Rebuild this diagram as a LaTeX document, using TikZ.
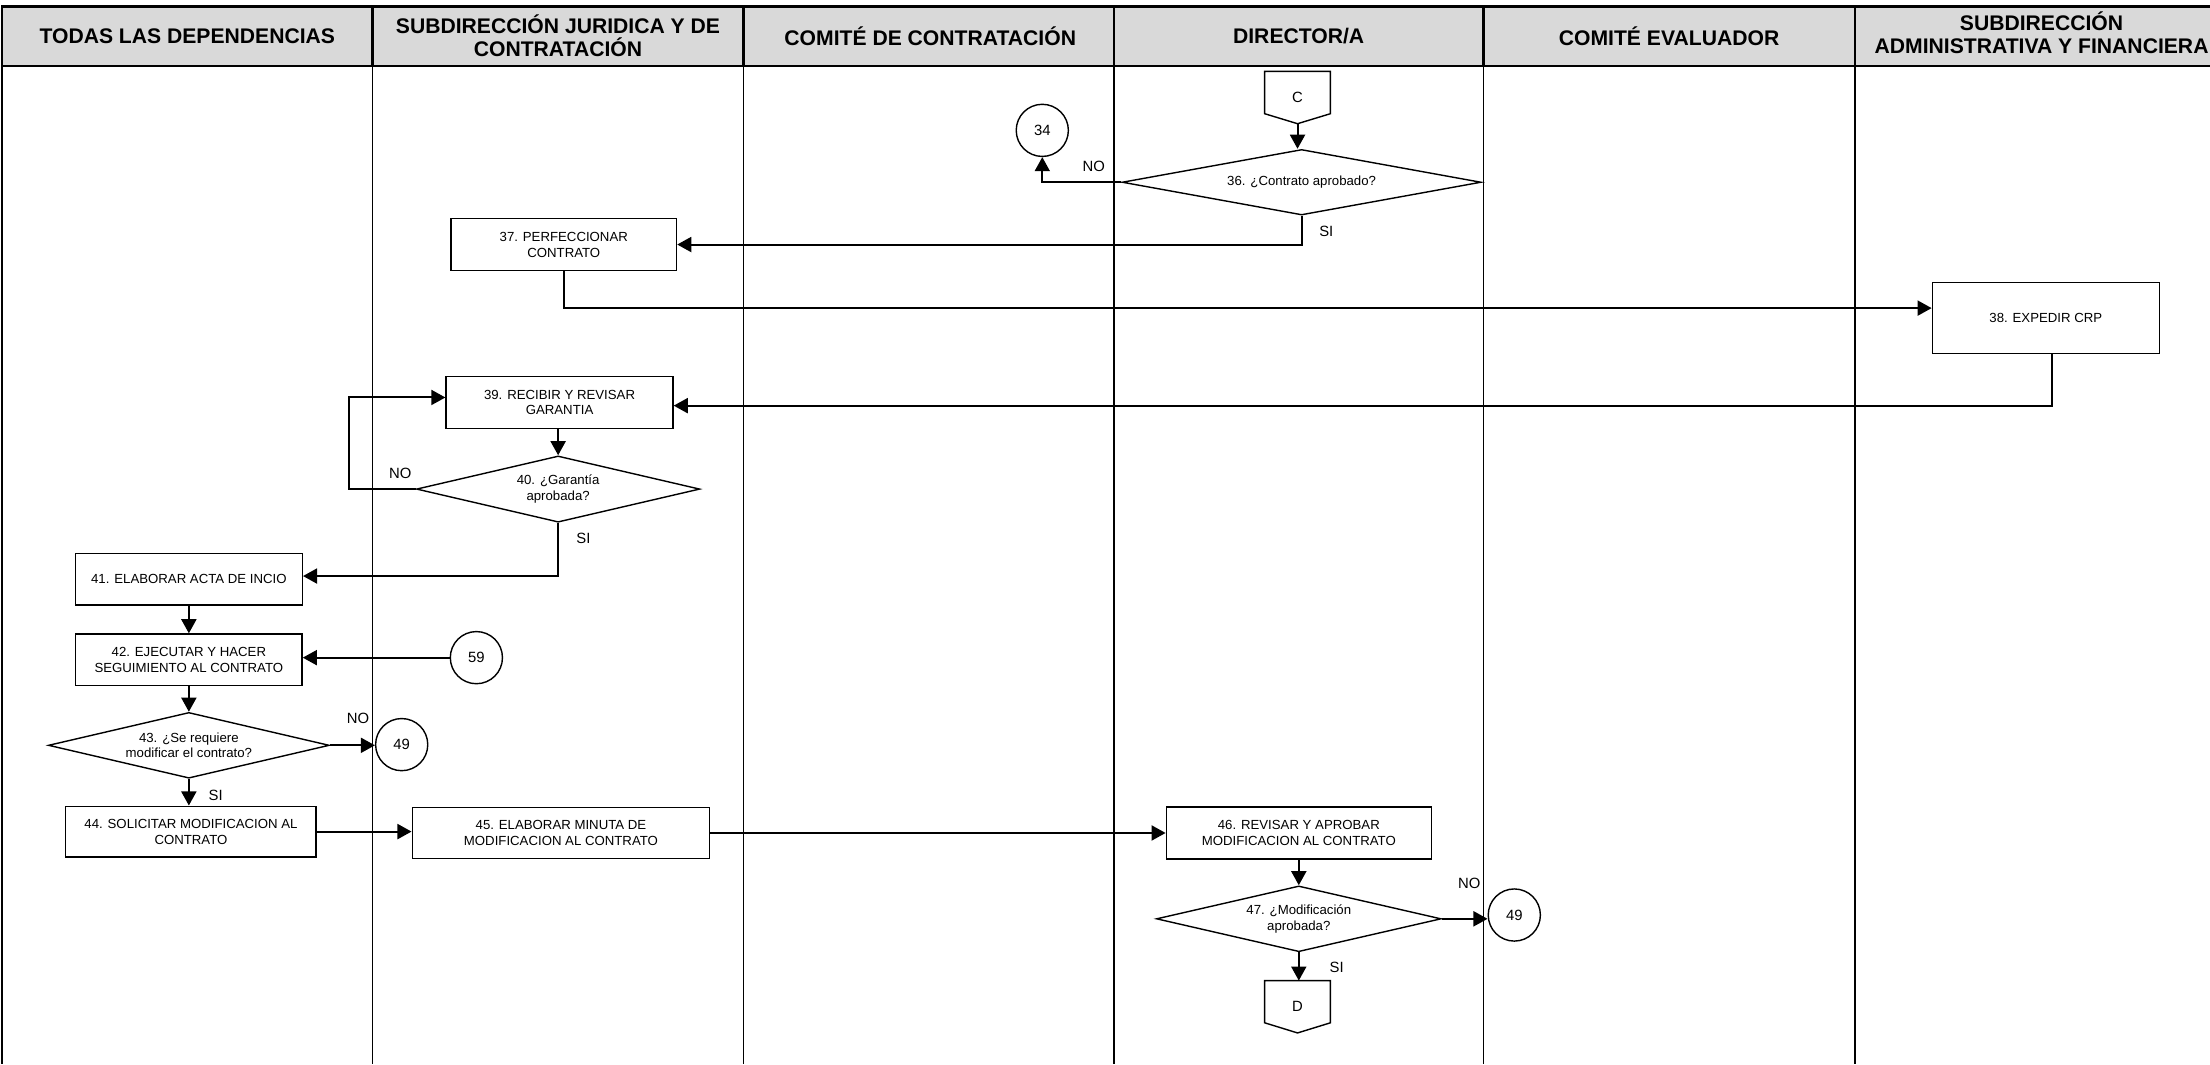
\documentclass[tikz,border=0pt]{standalone}
\usepackage{fontspec}
\setmainfont{Liberation Sans}
\usepackage{tikz}
\usetikzlibrary{shapes.geometric, arrows.meta, positioning, calc}

\definecolor{headgray}{RGB}{217, 217, 217}

\tikzset{
  lane/.style={line width=0.9pt},
  frame/.style={line width=1.6pt},
  head/.style={font=\fontsize{12.8}{14.1}\selectfont\bfseries, align=center, inner sep=0pt},
  task/.style={draw, line width=0.85pt, fill=white, font=\fontsize{8}{9.6}\selectfont, align=center, inner sep=1pt},
  decision/.style={draw, shape=diamond, aspect=4.3, line width=0.85pt, fill=white, inner sep=0pt, font=\fontsize{8}{9.6}\selectfont, align=center},
  link/.style={draw, circle, line width=0.85pt, fill=white, minimum size=1.11cm, inner sep=0pt, font=\fontsize{9}{10}\selectfont},
  offpage/.style={minimum width=1.386cm, minimum height=1.1cm, inner sep=0pt, font=\fontsize{9}{10}\selectfont},
  flow/.style={line width=1.2pt, -{Triangle[length=0.3cm, width=0.32cm]}},
  lbl/.style={font=\fontsize{9}{10}\selectfont, inner sep=0pt},
}

\begin{document}
\begin{tikzpicture}[x=0.03cm, y=-0.03cm]
  \useasboundingbox (0,0) rectangle (1568,755);

  % Header and lanes
  \draw[frame, fill=headgray] (1.4,4.7) rectangle (1579,46.8);
  \draw[frame] (1.4,4.7) -- (1.4,755);
  \draw[frame] (264.4,4.7) -- (264.4,46.8) (527.4,4.7) -- (527.4,46.8) (790.4,4.7) -- (790.4,46.8)
    (1052.4,4.7) -- (1052.4,46.8) (1316,4.7) -- (1316,46.8);
  \draw[lane] (264.4,46.8) -- (264.4,755) (527.4,46.8) -- (527.4,755) (790.4,46.8) -- (790.4,755)
    (1052.4,46.8) -- (1052.4,755) (1316,46.8) -- (1316,755);

  \node[head] (hdr1) at (132.9, 25.8) {TODAS LAS DEPENDENCIAS};
  \node[head] (hdr2) at (395.9, 25.4) {SUBDIRECCIÓN JURIDICA Y DE\\CONTRATACIÓN};
  \node[head] (hdr3) at (660, 25.8) {COMITÉ DE CONTRATACIÓN};
  \node[head] (hdr4) at (921.4, 25.8) {DIRECTOR/A};
  \node[head] (hdr5) at (1184.2, 25.8) {COMITÉ EVALUADOR};
  \node[head] (hdr6) at (1448.5, 23.4) {SUBDIRECCIÓN\\ADMINISTRATIVA Y FINANCIERA};

  % Connectors in and out
  \node[offpage] (offC) at (920.6, 69.2) {C};
  \draw[line width=0.85pt] (offC.north west) -- (offC.north east) -- ($(offC.south east)+(0,-7.1)$)
    -- (offC.south) -- ($(offC.south west)+(0,-7.1)$) -- cycle;
  \node[offpage] (offD) at (920.6, 714.3) {D};
  \draw[line width=0.85pt] (offD.north west) -- (offD.north east) -- ($(offD.south east)+(0,-7.2)$)
    -- (offD.south) -- ($(offD.south west)+(0,-7.2)$) -- cycle;

  \node[link] (c34) at (739.5, 92.5) {34};
  \node[link] (c59) at (338, 466.6) {59};
  \node[link] (c49a) at (285, 528.3) {49};
  \node[link] (c49b) at (1074.4, 649.2) {49};

  % Steps
  \node[decision, minimum width=7.64cm, minimum height=1.395cm] (d36) at (923.5, 129.3) {36. ¿Contrato aprobado?};
  \node[task, minimum width=4.8cm, minimum height=1.11cm] (b37) at (400, 173.5) {37. PERFECCIONAR\\CONTRATO};
  \node[task, minimum width=4.83cm, minimum height=1.5cm] (b38) at (1451.5, 225.6) {38. EXPEDIR CRP};
  \node[task, minimum width=4.83cm, minimum height=1.1cm] (b39) at (397, 285.5) {39. RECIBIR Y REVISAR\\GARANTIA};
  \node[decision, minimum width=6.03cm, minimum height=1.41cm] (d40) at (396, 347) {40. ¿Garantía\\aprobada?};
  \node[task, minimum width=4.83cm, minimum height=1.1cm] (b41) at (134, 411) {41. ELABORAR ACTA DE INCIO};
  \node[task, minimum width=4.82cm, minimum height=1.09cm] (b42) at (134, 468) {42. EJECUTAR Y HACER\\SEGUIMIENTO AL CONTRATO};
  \node[decision, minimum width=5.98cm, minimum height=1.40cm] (d43) at (134, 528.8) {43. ¿Se requiere\\modificar el contrato?};
  \node[task, minimum width=5.33cm, minimum height=1.08cm] (b44) at (135.5, 590) {44. SOLICITAR MODIFICACION AL\\CONTRATO};
  \node[task, minimum width=6.33cm, minimum height=1.08cm] (b45) at (398, 591) {45. ELABORAR MINUTA DE\\MODIFICACION AL CONTRATO};
  \node[task, minimum width=5.64cm, minimum height=1.1cm] (b46) at (921.5, 591) {46. REVISAR Y APROBAR\\MODIFICACION AL CONTRATO};
  \node[decision, minimum width=6.06cm, minimum height=1.40cm] (d47) at (921.5, 651.9) {47. ¿Modificación\\aprobada?};

  % Flow
  \draw[flow] (offC.south) -- (offC.south |- d36.north);
  \draw[flow] (d36.west) -| (c34);
  \draw[flow] (d36.south) |- (b37);
  \draw[flow] (b37.south) |- ($(b38.west)+(0,-7)$);
  \draw[flow] ($(b38.south)+(4.5,0)$) |- ($(b39.east)+(0,2.3)$);
  \draw[flow] (d40.north |- b39.south) -- (d40.north);
  \draw[flow] (d40.west) -- ++(-47.6,0) |- ($(b39.west)+(0,-3.5)$);
  \draw[flow] (d40.south) |- ($(b41.east)+(0,-2.3)$);
  \draw[flow] (b41) -- (b42);
  \draw[flow] (c59) -- (c59 -| b42.east);
  \draw[flow] (b42) -- (d43);
  \draw[flow] (d43.east) -- (d43.east -| c49a.west);
  \draw[flow] (d43.south) -- (d43.south |- b44.north);
  \draw[flow] (b44.east) -- (b44.east -| b45.west);
  \draw[flow] (b45.east) -- (b45.east -| b46.west);
  \draw[flow] (b46) -- (d47);
  \draw[flow] (d47.east) -- (d47.east -| c49b.west);
  \draw[flow] (d47.south) -- (d47.south |- offD.north);

  % Answers
  \node[lbl] (no36) at (776, 118) {NO};
  \node[lbl] (si36) at (941, 164) {SI};
  \node[lbl] (no40) at (284, 336) {NO};
  \node[lbl] (si40) at (414, 382) {SI};
  \node[lbl] (no43) at (254, 509.7) {NO};
  \node[lbl] (si43) at (153, 564) {SI};
  \node[lbl] (no47) at (1042.5, 627) {NO};
  \node[lbl] (si47) at (948.4, 686) {SI};
\end{tikzpicture}
\end{document}
